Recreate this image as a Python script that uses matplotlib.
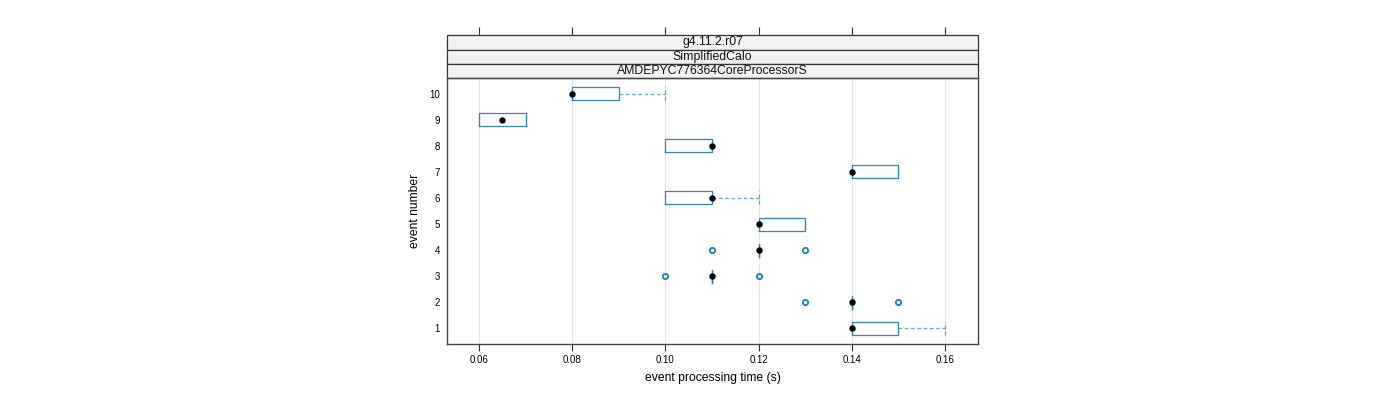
import matplotlib
matplotlib.use("Agg")
import matplotlib.pyplot as plt
from matplotlib.patches import Rectangle

plt.rcParams['font.family'] = ['Liberation Sans', 'DejaVu Sans']

events = [1, 2, 3, 4, 5, 6, 7, 8, 9, 10]
q1 = [0.14, 0.14, 0.11, 0.12, 0.12, 0.10, 0.14, 0.10, 0.06, 0.08]
q3 = [0.15, 0.14, 0.11, 0.12, 0.13, 0.11, 0.15, 0.11, 0.07, 0.09]
medians = [0.14, 0.14, 0.11, 0.12, 0.12, 0.11, 0.14, 0.11, 0.065, 0.08]
whislo = [0.14, 0.14, 0.11, 0.12, 0.12, 0.10, 0.14, 0.10, 0.06, 0.08]
whishi = [0.16, 0.14, 0.11, 0.12, 0.13, 0.12, 0.15, 0.11, 0.07, 0.10]
outliers = [[], [0.13, 0.15], [0.10, 0.12], [0.11, 0.13], [], [], [], [], [], []]
xticks = [0.06, 0.08, 0.10, 0.12, 0.14, 0.16]
xtick_labels = ["0.06", "0.08", "0.10", "0.12", "0.14", "0.16"]
strips = ["g4.11.2.r07", "SimplifiedCalo", "AMDEPYC776364CoreProcessorS"]

box_col = "#2b86c2"
W, H = 1400, 400
fig = plt.figure(figsize=(14, 4), dpi=100)
ax = fig.add_axes([447 / W, 56 / H, 531 / W, 266 / H])

stats = []
for i in range(len(events)):
    stats.append(dict(med=medians[i], q1=q1[i], q3=q3[i],
                      whislo=whislo[i], whishi=whishi[i], fliers=outliers[i]))

ax.bxp(stats, positions=events, orientation='horizontal', widths=0.5,
       capwidths=0.5, showfliers=True, patch_artist=False,
       boxprops=dict(color=box_col, linewidth=0.9),
       whiskerprops=dict(color=box_col, linewidth=0.9, linestyle=(0, (3, 2)), alpha=0.7),
       capprops=dict(color=box_col, linewidth=0.9, linestyle=(0, (3, 2)), alpha=0.7),
       medianprops=dict(linewidth=0),
       flierprops=dict(marker='o', markerfacecolor='none', markeredgecolor='#1a7fc0',
                       markersize=3.8, markeredgewidth=1.3, linestyle='none'))
ax.plot(medians, events, 'o', color='black', markersize=3.6, zorder=5)

ax.set_xlim(0.0531, 0.1671)
ax.set_ylim(0.4, 10.6)
ax.set_xticks(xticks)
ax.set_xticklabels(xtick_labels, fontsize=7)
ax.set_yticks(events)
ax.set_yticklabels([str(e) for e in events], fontsize=7)
ax.tick_params(axis='y', length=0, pad=5)
ax.tick_params(axis='x', length=5, width=0.8, direction='out', pad=3, color='#333333')
for sp in ax.spines.values():
    sp.set_color('#444444')
    sp.set_linewidth(1.0)
ax.grid(axis='x', color='#e6e6e6', linewidth=0.8)
ax.set_axisbelow(True)
ax.set_xlabel("event processing time (s)", fontsize=8.7, labelpad=5)
ax.set_ylabel("event number", fontsize=8.7, labelpad=6)

# strips
ph = 266.0
strip_tops = [35, 49.5, 64]
for k, s in enumerate(strips):
    top = strip_tops[k]
    bot = top + 14.5 if k < 2 else 78
    y0 = (344 - bot) / ph
    h = (bot - top) / ph
    ax.add_patch(Rectangle((0, y0), 1, h, transform=ax.transAxes, clip_on=False,
                           facecolor='#f2f2f2', edgecolor='#333333', linewidth=0.9))
    ax.text(0.5, y0 + h / 2, s, transform=ax.transAxes, ha='center', va='center',
            fontsize=8.8, color='#111111')

sec = ax.secondary_xaxis((344 - 35) / ph)
sec.set_xticks(xticks)
sec.set_xticklabels([])
sec.tick_params(length=6, width=0.8, direction='out', color='#333333')
for sp in sec.spines.values():
    sp.set_visible(False)

fig.savefig("out.png", dpi=100)
